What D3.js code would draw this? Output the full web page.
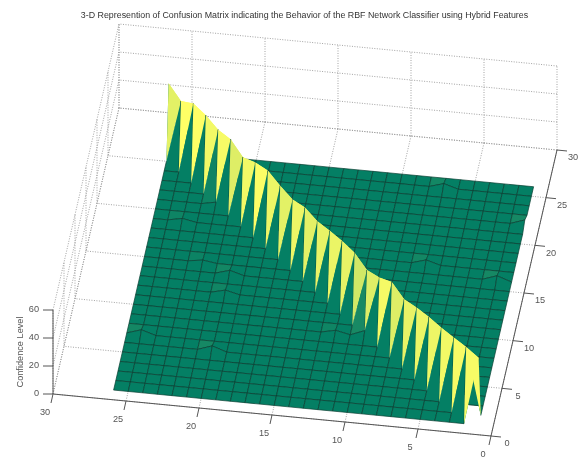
<!DOCTYPE html>
<html>
<head>
<meta charset="utf-8">
<title>Confusion Matrix Surface</title>
<script src="https://d3js.org/d3.v7.min.js"></script>
<style>
html, body { margin: 0; padding: 0; background: #fff; }
svg { display: block; filter: blur(0.45px); }
text { font-family: "Liberation Sans", Arial, sans-serif; }
</style>
</head>
<body>
<div id="chart"></div>
<script>
var chartTitle = "3-D Represention of Confusion Matrix indicating the Behavior of the RBF Network Classifier using Hybrid Features";
var zLabel = "Confidence Level";

var xyTicks = [0, 5, 10, 15, 20, 25, 30];
var zTicks = [0, 20, 40, 60];

// classes 1..26, values on the diagonal
var classes = d3.range(1, 27);
var diagonalValues = [48, 48, 47, 46, 46, 45, 43, 47.5, 43, 40.5, 45, 45.5, 45,
    44, 46, 44, 46, 49, 47, 43, 48, 47, 49.5, 50, 44, 49];

// small misclassification bumps
var bumpX = [25, 20, 20, 12, 10, 7, 7, 2, 1, 24, 22, 22, 20];
var bumpY = [7, 6, 12, 9, 9, 25, 17, 16, 22, 19, 21, 15, 14];
var bumpZ = [3.2, 3.5, 2.5, 2.2, 4, 3, 3, 3.5, 3.5, 2, 2, 1.5, 3];

var width = 581;
var height = 464;

// the box is an orthographic projection, each data axis gets its own pixel scales
var pxX = d3.scaleLinear().domain([0, 30]).range([0, -438]);
var pyX = d3.scaleLinear().domain([0, 30]).range([0, -42]);
var pxY = d3.scaleLinear().domain([0, 30]).range([0, 66]);
var pyY = d3.scaleLinear().domain([0, 30]).range([0, -286]);
var pyZ = d3.scaleLinear().domain([0, 60]).range([0, -84]);
var originX = 491;
var originY = 436;

function project(x, y, z) {
    return [originX + pxX(x) + pxY(y), originY + pyX(x) + pyY(y) + pyZ(z)];
}

var color = d3.scaleLinear().domain([0, 49.5]).range(["#047f64", "#ffff66"]).clamp(true);
var lowColor = color(0);

function value(x, y) {
    if (x === y) return diagonalValues[x - 1];
    for (var k = 0; k < bumpX.length; k++) {
        if (bumpX[k] === x && bumpY[k] === y) return bumpZ[k];
    }
    return 0;
}

var svg = d3.select("#chart").append("svg")
    .attr("width", width)
    .attr("height", height);

var line = d3.line();

function seg(a, b) {
    return line([project(a[0], a[1], a[2]), project(b[0], b[1], b[2])]);
}

// grid on walls and floor
var gridG = svg.append("g")
    .attr("fill", "none")
    .attr("stroke", "#999")
    .attr("stroke-width", 0.9)
    .attr("stroke-dasharray", "1 1.5");

xyTicks.forEach(function (t) {
    gridG.append("path").attr("d", seg([t, 0, 0], [t, 30, 0]));
    gridG.append("path").attr("d", seg([0, t, 0], [30, t, 0]));
    gridG.append("path").attr("d", seg([t, 30, 0], [t, 30, 60]));
    gridG.append("path").attr("d", seg([30, t, 0], [30, t, 60]));
});
zTicks.forEach(function (t) {
    gridG.append("path").attr("d", seg([0, 30, t], [30, 30, t]));
    gridG.append("path").attr("d", seg([30, 0, t], [30, 30, t]));
});

// axes
var axisG = svg.append("g")
    .attr("fill", "none")
    .attr("stroke", "#555")
    .attr("stroke-width", 1);

axisG.append("path").attr("d", seg([0, 0, 0], [30, 0, 0]));
axisG.append("path").attr("d", seg([0, 0, 0], [0, 30, 0]));
axisG.append("path").attr("d", seg([30, 0, 0], [30, 0, 60]));

var labelG = svg.append("g")
    .attr("fill", "#555")
    .style("font-size", "9.2px");

xyTicks.forEach(function (t) {
    var p = project(t, 0, 0);
    axisG.append("path").attr("d", line([p, [p[0] - 2, p[1] + 9]]));
    labelG.append("text")
        .attr("x", p[0] - 8)
        .attr("y", p[1] + 18)
        .attr("dy", ".35em")
        .attr("text-anchor", "middle")
        .text(t);

    var q = project(0, t, 0);
    axisG.append("path").attr("d", line([q, [q[0] + 10, q[1] + 1]]));
    labelG.append("text")
        .attr("x", q[0] + 16)
        .attr("y", q[1] + 7)
        .attr("dy", ".35em")
        .attr("text-anchor", "middle")
        .text(t);
});

zTicks.forEach(function (t) {
    var p = project(30, 0, t);
    axisG.append("path").attr("d", line([p, [p[0] - 10, p[1]]]));
    labelG.append("text")
        .attr("x", p[0] - 14)
        .attr("y", p[1] - 1)
        .attr("dy", ".35em")
        .attr("text-anchor", "end")
        .text(t);
});

labelG.append("text")
    .attr("transform", "translate(20,352) rotate(-90)")
    .attr("dy", ".35em")
    .attr("text-anchor", "middle")
    .text(zLabel);

svg.append("text")
    .attr("x", 304.5)
    .attr("y", 15)
    .attr("dy", ".35em")
    .attr("text-anchor", "middle")
    .attr("fill", "#333")
    .style("font-size", "8.85px")
    .text(chartTitle);

// surface, back to front so nearer faces cover the ridge
var surfaceG = svg.append("g");
var edgeColor = "#0a3f32";

function vertex(x, y) {
    return project(x, y, value(x, y));
}

function drawEdge(a, b) {
    surfaceG.append("path")
        .attr("d", line([a, b]))
        .attr("fill", "none")
        .attr("stroke", edgeColor)
        .attr("stroke-width", 0.7);
}

classes.slice(0, -1).reverse().forEach(function (j) {
    classes.slice(0, -1).reverse().forEach(function (i) {
        var a = vertex(i, j), b = vertex(i + 1, j), c = vertex(i + 1, j + 1), d = vertex(i, j + 1);
        var fill = color(value(i, j));

        if (i === j) {
            // twisted face on the ridge, split along the diagonal
            surfaceG.append("path")
                .attr("d", line([a, b, c, d]) + "Z")
                .attr("fill", lowColor);
            surfaceG.append("path")
                .attr("d", line([a, b, c]) + "Z")
                .attr("fill", fill);
            surfaceG.append("path")
                .attr("d", line([a, c, d]) + "Z")
                .attr("fill", fill);
            return;
        }

        surfaceG.append("path")
            .attr("d", line([a, b, c, d]) + "Z")
            .attr("fill", fill);

        // edges along X are dropped where they climb to a peak
        if (value(i, j) < 20 && value(i + 1, j) < 20) drawEdge(a, b);
        if (value(i, j + 1) < 20 && value(i + 1, j + 1) < 20) drawEdge(d, c);
        drawEdge(b, c);
        drawEdge(a, d);
    });
});
</script>
</body>
</html>
